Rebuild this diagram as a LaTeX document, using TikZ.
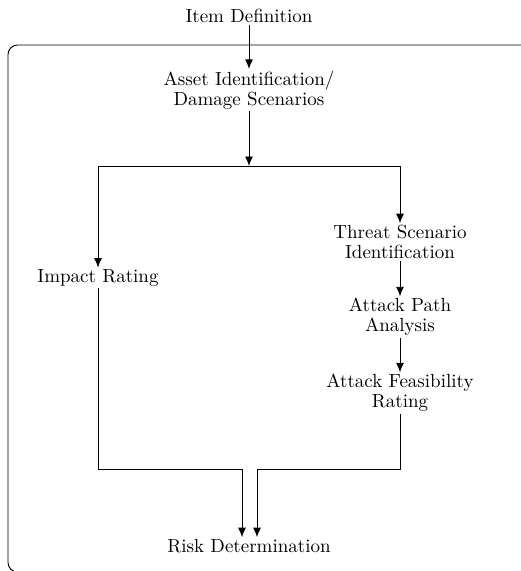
\documentclass[tikz,border=0pt]{standalone}
\usetikzlibrary{arrows.meta}
\begin{document}
\begin{tikzpicture}[x=0.5263pt,y=-0.5263pt,
  lbl/.style={align=center,inner sep=0.8pt,font=\fontsize{10}{10.5}\selectfont},
  flow/.style={-{Latex[length=5pt,width=4.2pt]}},
  line width=0.5pt]
\useasboundingbox (0,0) rectangle (521,571);
\draw[rounded corners=5pt] (560,45) -- (8,45) -- (8,572) -- (560,572);
\node[lbl] (item) at (249,16) {Item Definition};
\node[lbl] (asset) at (249,90) {Asset Identification/\\Damage Scenarios};
\node[lbl] (impact) at (98,278) {Impact Rating};
\node[lbl] (threat) at (400,242) {Threat Scenario\\Identification};
\node[lbl] (path) at (400,317) {Attack Path\\Analysis};
\node[lbl] (feas) at (400,393) {Attack Feasibility\\Rating};
\node[lbl] (risk) at (249,546) {Risk Determination};
\coordinate (split) at (249,166);
\coordinate (ml) at (242,469);
\coordinate (mr) at (257,469);
\draw[flow] (item) -- (asset);
\draw[flow] (asset) -- (split);
\draw[flow] (split) -| (impact);
\draw[flow] (split) -| (threat);
\draw[flow] (threat) -- (path);
\draw[flow] (path) -- (feas);
\draw[flow] (impact) |- (ml) -- (ml |- risk.north);
\draw[flow] (feas) |- (mr) -- (mr |- risk.north);
\end{tikzpicture}
\end{document}
